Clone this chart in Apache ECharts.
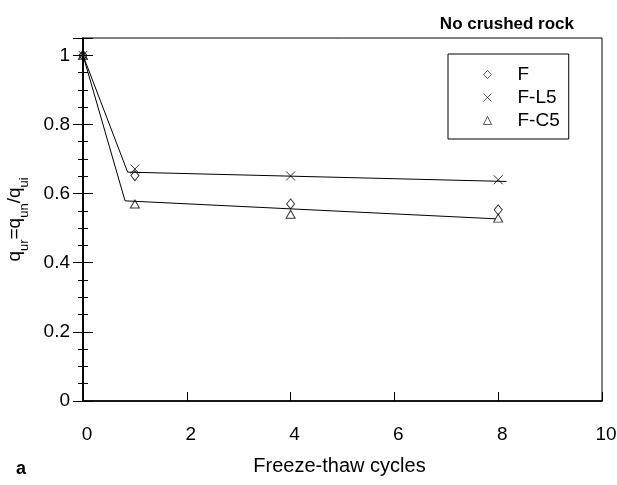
<!DOCTYPE html>
<html>
<head>
<meta charset="utf-8">
<script src="https://cdn.jsdelivr.net/npm/echarts@6/dist/echarts.min.js"></script>
<style>html,body{margin:0;padding:0;background:#fff}#c{width:617px;height:485px}</style>
</head>
<body>
<div id="c"></div>
<script>
// Data
const cycles = [0, 1, 4, 8];
const seriesF = [1.0, 0.652, 0.570, 0.553];
const seriesFL5 = [1.0, 0.671, 0.651, 0.640];
const seriesFC5 = [1.0, 0.570, 0.540, 0.529];
const fitUpperX = [0, 0.86, 8.16];
const fitUpperY = [1.0, 0.662, 0.635];
const fitLowerX = [0, 0.81, 7.95];
const fitLowerY = [1.0, 0.579, 0.527];
const seriesNames = ['F', 'F-L5', 'F-C5'];
const xTicks = [0, 2, 4, 6, 8, 10];
const yTicks = [0, 0.2, 0.4, 0.6, 0.8, 1];

const FONT = 'Liberation Sans';
const pair = (xs, ys) => xs.map((x, i) => [x, ys[i]]);
const crossPath = 'path://M0,0L10,10M10,0L0,10';

const chart = echarts.init(document.getElementById('c'));
const markerStyle = { color: 'none', borderColor: '#000', borderWidth: 1 };

const yLabelFmt = v => {
  const hit = yTicks.find(t => Math.abs(t - v) < 1e-6);
  return hit === undefined ? '' : String(hit);
};

chart.setOption({
  animation: false,
  backgroundColor: '#fff',
  textStyle: { fontFamily: FONT },
  title: [
    { text: 'No crushed rock', right: 38, top: 11,
      textStyle: { fontFamily: FONT, fontSize: 17, fontWeight: 'bold', color: '#000' } },
    { text: 'a', left: 11, top: 455,
      textStyle: { fontFamily: FONT, fontSize: 18, fontWeight: 'bold', color: '#000' } }
  ],
  grid: { left: 83, right: 15, top: 38, bottom: 84, show: true, borderColor: '#000', borderWidth: 1,
    containLabel: false, outerBoundsMode: 'none' },
  legend: {
    orient: 'vertical',
    left: 448, top: 54,
    padding: [9, 9, 7, 33],
    backgroundColor: '#fff',
    borderColor: '#000', borderWidth: 1,
    itemWidth: 8, itemHeight: 8, itemGap: 0,
    itemStyle: { borderWidth: 0.8 },
    textStyle: { fontFamily: FONT, fontSize: 19, color: '#000', lineHeight: 23, padding: [0, 0, 0, 21] },
    data: seriesNames
  },
  xAxis: [{
    type: 'value', min: 0, max: 10, interval: 2,
    name: 'Freeze-thaw cycles', nameLocation: 'middle', nameGap: 55,
    nameTextStyle: { fontFamily: FONT, fontSize: 20, color: '#000', padding: [0, 6, 0, 0] },
    axisLine: { show: true, onZero: false, lineStyle: { color: '#555', width: 1.5 } },
    axisTick: { show: true, inside: true, length: 9, lineStyle: { color: '#000' } },
    axisLabel: { fontFamily: FONT, fontSize: 19, color: '#000', margin: 24, padding: [0, 0, 0, 8] },
    splitLine: { show: false }
  }, {
    type: 'value', min: 0, max: 10, position: 'top',
    axisLine: { show: true, lineStyle: { color: '#000', width: 1.5 } },
    axisTick: { show: false }, axisLabel: { show: false }, splitLine: { show: false }
  }],
  yAxis: [{
    type: 'value', min: 0, max: 1.05, interval: 0.2,
    name: '{m|q}{s|ur}{m|=q}{s|un}{m|/q}{s|ui}',
    nameLocation: 'middle', nameGap: 52, nameRotate: 90,
    nameTextStyle: {
      fontFamily: FONT, color: '#000',
      rich: {
        m: { fontFamily: FONT, fontSize: 19, color: '#000', lineHeight: 26, verticalAlign: 'top' },
        s: { fontFamily: FONT, fontSize: 13, color: '#000', lineHeight: 14, verticalAlign: 'bottom' }
      }
    },
    axisLine: { show: true, lineStyle: { color: '#000', width: 1.5 } },
    axisTick: { show: true, inside: true, length: 10, lineStyle: { color: '#000' } },
    minorTick: { show: true, splitNumber: 4, length: 5, lineStyle: { color: '#000' } },
    axisLabel: { fontFamily: FONT, fontSize: 19, color: '#000', margin: 13, formatter: yLabelFmt },
    splitLine: { show: false }, minorSplitLine: { show: false }
  }, {
    type: 'value', min: 0, max: 1.05, interval: 0.2, position: 'right',
    axisLine: { show: true, lineStyle: { color: '#000', width: 1.5 } },
    axisTick: { show: true, inside: true, length: 10, lineStyle: { color: '#000' } },
    minorTick: { show: true, splitNumber: 4, length: 5, lineStyle: { color: '#000' } },
    axisLabel: { show: false },
    splitLine: { show: false }, minorSplitLine: { show: false }
  }],
  series: [
    { name: 'fitUpper', type: 'line', data: pair(fitUpperX, fitUpperY), showSymbol: false, symbol: 'none',
      lineStyle: { color: '#000', width: 1 }, silent: true, z: 1 },
    { name: 'fitLower', type: 'line', data: pair(fitLowerX, fitLowerY), showSymbol: false, symbol: 'none',
      lineStyle: { color: '#000', width: 1 }, silent: true, z: 1 },
    { name: 'F', type: 'scatter', data: pair(cycles, seriesF), symbol: 'diamond', symbolSize: [8, 10],
      itemStyle: markerStyle, clip: false, z: 3 },
    { name: 'F-L5', type: 'scatter', data: pair(cycles, seriesFL5), symbol: crossPath, symbolSize: [9, 9],
      itemStyle: markerStyle, clip: false, z: 3 },
    { name: 'F-C5', type: 'scatter', data: pair(cycles, seriesFC5), symbol: 'triangle', symbolSize: [9, 8],
      itemStyle: markerStyle, clip: false, z: 3 }
  ]
});
</script>
</body>
</html>
